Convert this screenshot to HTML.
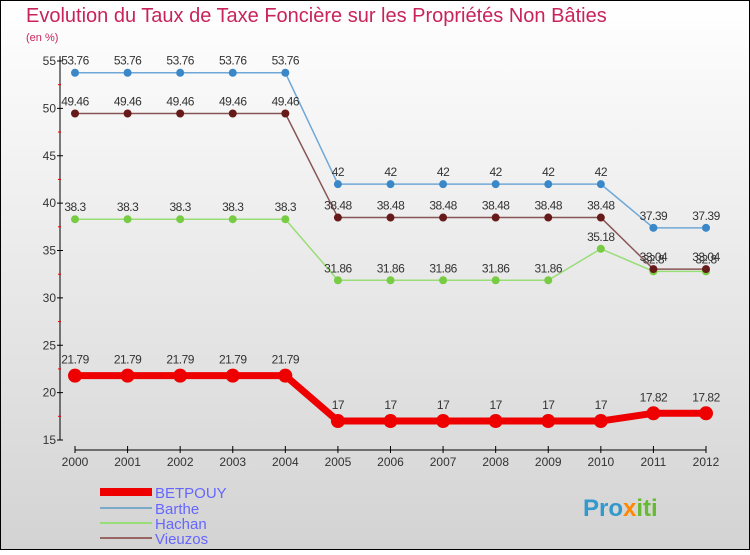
<!DOCTYPE html>
<html><head><meta charset="utf-8"><style>
html,body{margin:0;padding:0}
body{width:750px;height:550px;overflow:hidden;font-family:"Liberation Sans",sans-serif}
</style></head><body>
<svg width="750" height="550" xmlns="http://www.w3.org/2000/svg">
<defs><linearGradient id="bg" x1="0" y1="0" x2="0" y2="1"><stop offset="0" stop-color="#ffffff"/><stop offset="1" stop-color="#d3d3d3"/></linearGradient></defs>
<rect x="0.5" y="0.5" width="749" height="549" fill="url(#bg)" stroke="#000"/>
<text x="26" y="22" font-size="20" fill="#c8245a">Evolution du Taux de Taxe Foncière sur les Propriétés Non Bâties</text>
<text x="26" y="41" font-size="11" fill="#c8245a">(en %)</text>
<g id="axes"></g>
<g id="series"></g>
<g>
<rect x="100" y="488" width="52" height="8" fill="#e00"/>
<text x="155" y="498" font-size="15" fill="#6666ff">BETPOUY</text>
<rect x="100" y="507" width="52" height="2" fill="#7aaac8"/>
<text x="155" y="514" font-size="15" fill="#6666ff">Barthe</text>
<rect x="100" y="522" width="52" height="2" fill="#99dd77"/>
<text x="155" y="529" font-size="15" fill="#6666ff">Hachan</text>
<rect x="100" y="537" width="52" height="2" fill="#996666"/>
<text x="155" y="544" font-size="15" fill="#6666ff">Vieuzos</text>
</g>
<text x="583" y="516" font-size="24" font-weight="bold" fill="#3399cc">Pro<tspan fill="#ff8800">x</tspan><tspan fill="#66bb33">iti</tspan></text>
</svg>
<script>
const years=[2000,2001,2002,2003,2004,2005,2006,2007,2008,2009,2010,2011,2012];
const yTicks=[15,20,25,30,35,40,45,50,55];
const betpouy=[21.79,21.79,21.79,21.79,21.79,17,17,17,17,17,17,17.82,17.82];
const barthe=[53.76,53.76,53.76,53.76,53.76,42,42,42,42,42,42,37.39,37.39];
const hachan=[38.3,38.3,38.3,38.3,38.3,31.86,31.86,31.86,31.86,31.86,35.18,32.8,32.8];
const vieuzos=[49.46,49.46,49.46,49.46,49.46,38.48,38.48,38.48,38.48,38.48,38.48,33.04,33.04];
const NS="http://www.w3.org/2000/svg";
function X(i){return 75+i*(706-75)/(years.length-1);}
function Y(v){return 440-(v-15)*(440-61)/40;}
function mk(tag,attrs,parent){const e=document.createElementNS(NS,tag);for(const k in attrs)e.setAttribute(k,attrs[k]);parent.appendChild(e);return e;}
const ax=document.getElementById('axes');
let yl=mk('line',{x1:60,y1:Y(55)-5,x2:60,y2:Y(15),stroke:'#000'},ax);


yTicks.forEach((t,i)=>{
 mk('line',{x1:57,x2:63,y1:Y(t),y2:Y(t),stroke:'#000'},ax);
 if(i<yTicks.length-1)mk('line',{x1:58,x2:61,y1:Y(t+2.5),y2:Y(t+2.5),stroke:'#e00'},ax);
 const tx=mk('text',{x:56,y:Y(t)+4,'font-size':12,'text-anchor':'end',fill:'#333'},ax);
 tx.textContent=t;
 
 
});
let xl=mk('line',{x1:X(0),y1:450,x2:X(years.length-1),y2:450,stroke:'#000'},ax);


years.forEach((y,i)=>{
 mk('line',{x1:X(i),x2:X(i),y1:446,y2:453,stroke:'#000'},ax);
 const tx=mk('text',{x:X(i),y:466,'font-size':12,'text-anchor':'middle',fill:'#333'},ax);
 tx.textContent=y;
 
 
});
const sg=document.getElementById('series');
function draw(name,data,color,lw,r,pt){
 const g=mk('g',{},sg);
 
 
 const pl=mk('polyline',{points:data.map((v,i)=>X(i)+','+Y(v)).join(' '),fill:'none',stroke:color,'stroke-width':lw},g);
 
 
 data.forEach((v,i)=>{
  const c=mk('circle',{cx:X(i),cy:Y(v),r:r,fill:pt},g);
  
  
  const t=mk('text',{x:X(i),y:Y(v)-8-(r>5?4:0),'font-size':12,'text-anchor':'middle',fill:'#333','letter-spacing':'-0.5'},g);
  t.textContent=v;
  
  
 });
}
draw('barthe',barthe,'#6fa8d8',1.5,4,'#3a88c8');
draw('hachan',hachan,'#99dd77',1.5,4,'#77cc44');
draw('vieuzos',vieuzos,'#885555',1.5,4,'#661a1a');
draw('betpouy',betpouy,'#ee0000',7,7,'#ee0000');
</script>
</body></html>
